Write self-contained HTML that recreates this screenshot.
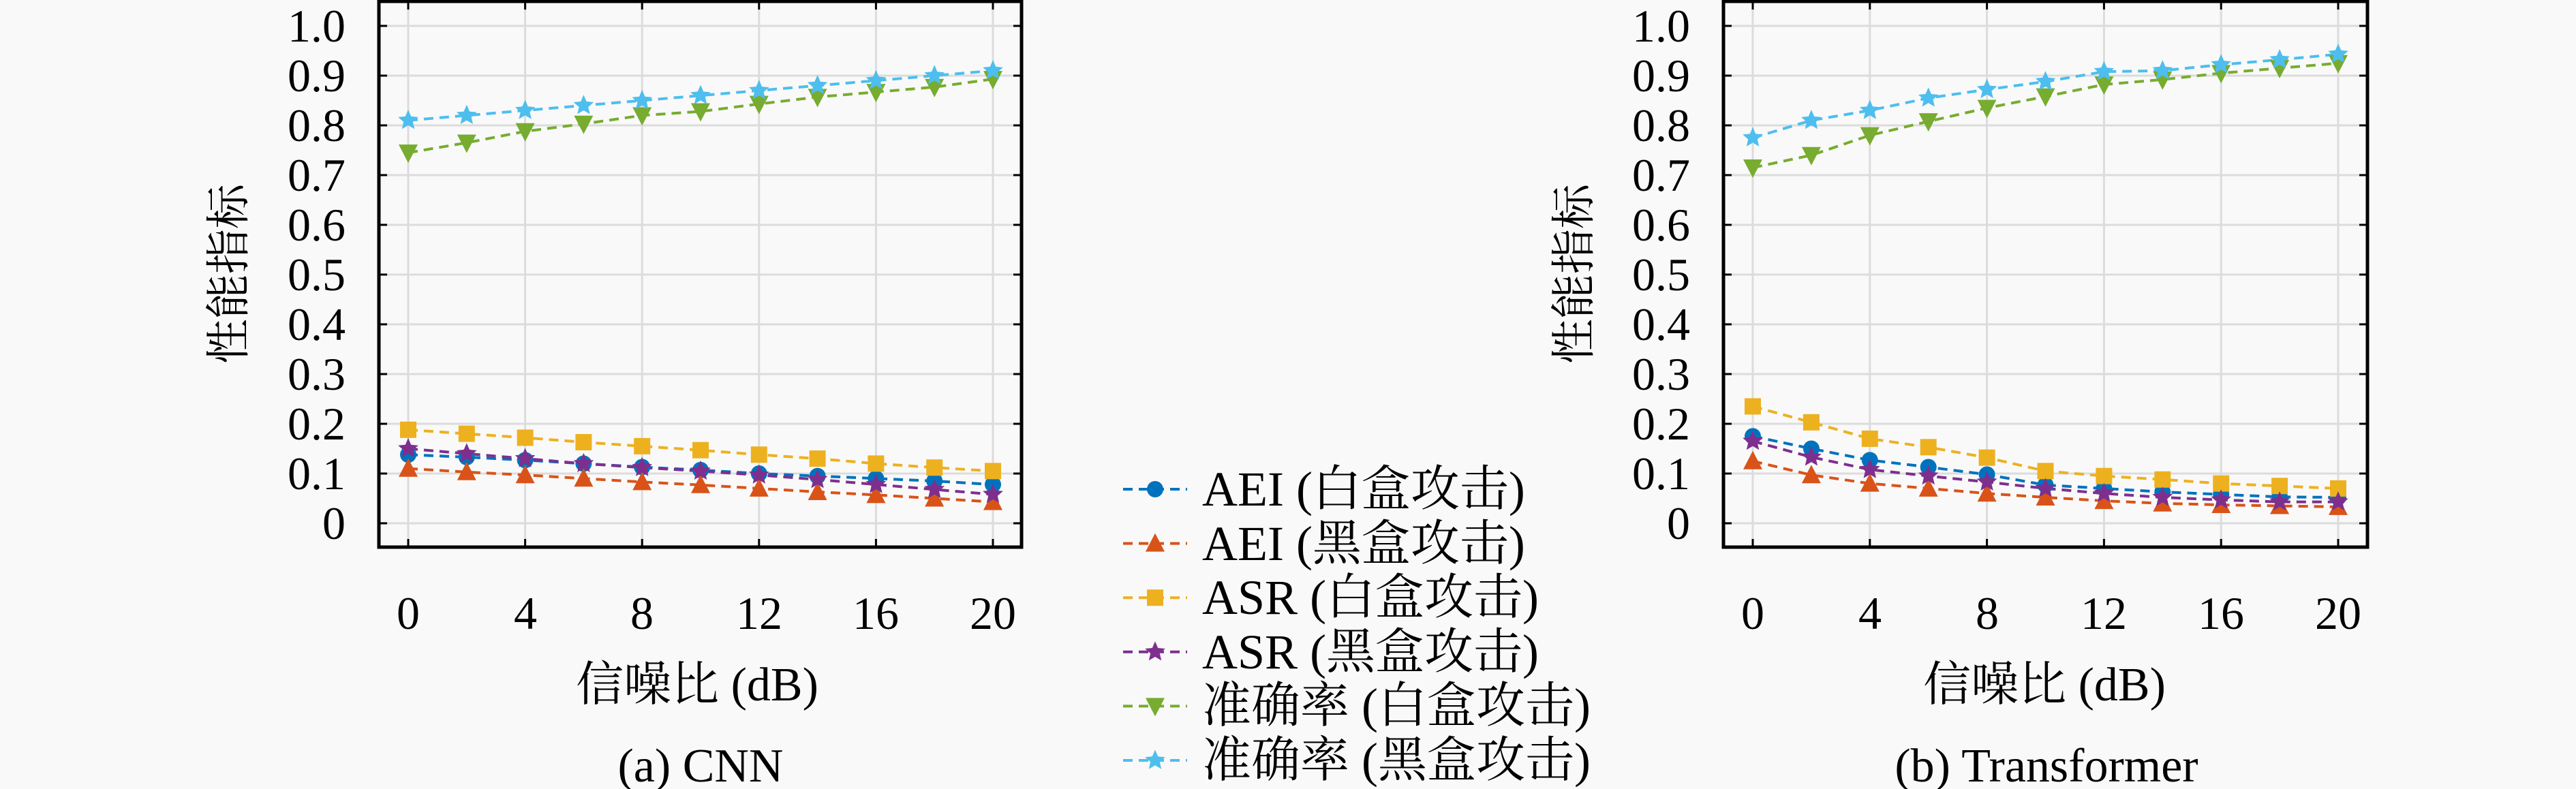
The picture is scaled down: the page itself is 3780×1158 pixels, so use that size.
<!DOCTYPE html>
<html><head><meta charset="utf-8"><style>
html,body{margin:0;padding:0;background:#f9f9f9;}
svg{display:block}
text{font-family:"Liberation Serif","Noto Serif CJK SC",serif;fill:#000}
</style></head><body>
<svg id="s" width="3780" height="1158" xmlns="http://www.w3.org/2000/svg">
<rect width="3780" height="1158" fill="#f9f9f9"/>
<g id="g"></g>
<g font-size="68" text-anchor="end" font-family="Liberation Serif, serif">
<text x="507" y="61">1.0</text><text x="507" y="134">0.9</text><text x="507" y="207">0.8</text><text x="507" y="280">0.7</text><text x="507" y="353">0.6</text><text x="507" y="426">0.5</text><text x="507" y="499">0.4</text><text x="507" y="572">0.3</text><text x="507" y="645">0.2</text><text x="507" y="718">0.1</text><text x="507" y="791">0</text>
<text x="2480" y="61">1.0</text><text x="2480" y="134">0.9</text><text x="2480" y="207">0.8</text><text x="2480" y="280">0.7</text><text x="2480" y="353">0.6</text><text x="2480" y="426">0.5</text><text x="2480" y="499">0.4</text><text x="2480" y="572">0.3</text><text x="2480" y="645">0.2</text><text x="2480" y="718">0.1</text><text x="2480" y="791">0</text>
</g>
<g font-size="68" text-anchor="middle">
<text x="599" y="923">0</text><text x="771" y="923">4</text><text x="942" y="923">8</text><text x="1114" y="923">12</text><text x="1285" y="923">16</text><text x="1457" y="923">20</text>
<text x="2572" y="923">0</text><text x="2744" y="923">4</text><text x="2916" y="923">8</text><text x="3087" y="923">12</text><text x="3259" y="923">16</text><text x="3431" y="923">20</text>
</g>
<g font-size="70" text-anchor="middle">
<text x="1023" y="1028">信噪比 (dB)</text>
<text x="3000" y="1028">信噪比 (dB)</text>
<text x="1028" y="1147">(a) CNN</text>
<text x="3003" y="1147">(b) Transformer</text>
<text transform="translate(358,402) rotate(-90)" font-size="66">性能指标</text>
<text transform="translate(2332,402) rotate(-90)" font-size="66">性能指标</text>
</g>
<g font-size="72">
<text x="1764" y="742">AEI (白盒攻击)</text>
<text x="1764" y="822">AEI (黑盒攻击)</text>
<text x="1764" y="901">ASR (白盒攻击)</text>
<text x="1764" y="981">ASR (黑盒攻击)</text>
<text x="1764" y="1060">准确率 (白盒攻击)</text>
<text x="1764" y="1140">准确率 (黑盒攻击)</text>
</g>
</svg>
<script>
const NS="http://www.w3.org/2000/svg",g=document.getElementById('g');
function el(t,a){const e=document.createElementNS(NS,t);for(const k in a)e.setAttribute(k,a[k]);g.appendChild(e);return e;}
const cols=['#0072BD','#D95319','#EDB120','#7E2F8E','#77AC30','#4DBEEE'];
function marker(k,x,y,c){const r=12;
 if(k==0)el('circle',{cx:x,cy:y,r:r,fill:c});
 else if(k==1)el('polygon',{points:`${x},${y-r-3} ${x+r+2},${y+r} ${x-r-2},${y+r}`,fill:c});
 else if(k==2)el('rect',{x:x-r,y:y-r,width:2*r,height:2*r,fill:c});
 else if(k==4)el('polygon',{points:`${x-r-2},${y-r} ${x+r+2},${y-r} ${x},${y+r+3}`,fill:c});
 else{let p=[];for(let i=0;i<10;i++){const a=-Math.PI/2+i*Math.PI/5,rr=i%2?r*0.6:r*1.3;p.push((x+rr*Math.cos(a)).toFixed(1)+','+(y+rr*Math.sin(a)).toFixed(1));}
  el('polygon',{points:p.join(' '),fill:c});}
}
const D1=[[.138,.133,.127,.12,.113,.107,.1,.095,.09,.085,.078],
[.11,.103,.097,.09,.083,.077,.07,.063,.057,.05,.043],
[.188,.18,.172,.163,.155,.147,.138,.13,.12,.112,.105],
[.15,.14,.13,.12,.112,.105,.097,.088,.078,.068,.058],
[.745,.765,.788,.803,.82,.828,.843,.857,.867,.877,.893],
[.81,.82,.83,.84,.85,.86,.87,.88,.89,.90,.91]];
const D2=[[.175,.15,.127,.113,.098,.077,.07,.063,.058,.053,.052],
[.125,.097,.08,.07,.06,.052,.045,.04,.037,.035,.033],
[.235,.203,.17,.153,.132,.105,.095,.088,.08,.075,.07],
[.165,.133,.108,.095,.083,.07,.06,.052,.047,.043,.043],
[.715,.74,.78,.808,.835,.858,.882,.892,.905,.915,.925],
[.775,.81,.83,.855,.872,.888,.908,.91,.922,.932,.943]];
function plot(L,R,x0,x20,D){
 const T=2,B=803,y=v=>768-v*730,x=s=>x0+(x20-x0)*s/20;
 for(let i=0;i<=10;i++){const yy=y(i/10);el('line',{x1:L,x2:R,y1:yy,y2:yy,stroke:'#dcdcdc','stroke-width':3});
  el('line',{x1:L,x2:L+12,y1:yy,y2:yy,stroke:'#000','stroke-width':3});el('line',{x1:R-12,x2:R,y1:yy,y2:yy,stroke:'#000','stroke-width':3});}
 for(let s=0;s<=20;s+=4){const xx=x(s);el('line',{x1:xx,x2:xx,y1:T,y2:B,stroke:'#dcdcdc','stroke-width':3});
  el('line',{x1:xx,x2:xx,y1:B-12,y2:B,stroke:'#000','stroke-width':3});el('line',{x1:xx,x2:xx,y1:T,y2:T+12,stroke:'#000','stroke-width':3});}
 D.forEach((d,k)=>{const pts=d.map((v,i)=>x(i*2).toFixed(1)+','+y(v).toFixed(1)).join(' ');
  el('polyline',{points:pts,fill:'none',stroke:cols[k],'stroke-width':4,'stroke-dasharray':'14 9'});});
 D.forEach((d,k)=>d.forEach((v,i)=>marker(k,x(i*2),y(v),cols[k])));
 el('rect',{x:L,y:T,width:R-L,height:B-T,fill:'none',stroke:'#000','stroke-width':5});
}
plot(556,1499,599,1457,D1);
plot(2529,3474,2572,3431,D2);
for(let k=0;k<6;k++){const yy=718+k*79.6;
 el('line',{x1:1648,x2:1742,y1:yy,y2:yy,stroke:cols[k],'stroke-width':4,'stroke-dasharray':'14 9'});
 marker(k,1695,yy,cols[k]);}
</script>
</body></html>
